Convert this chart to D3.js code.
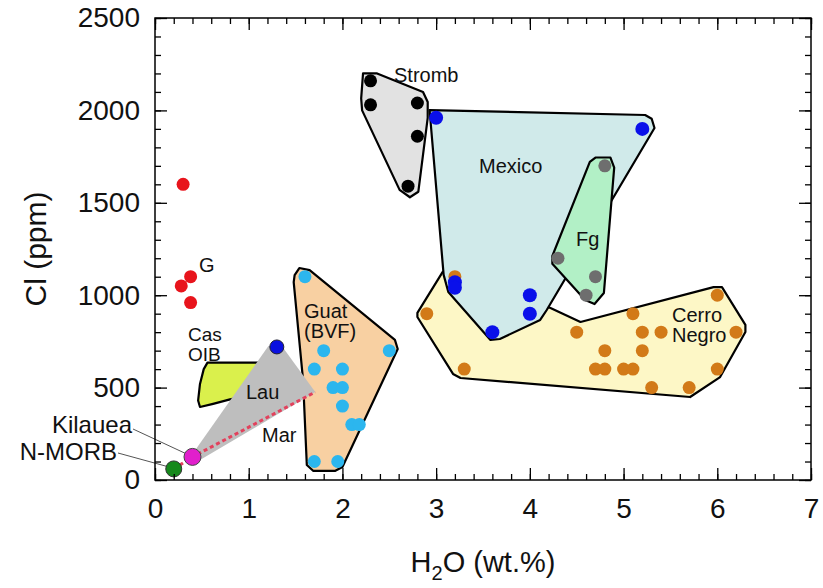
<!DOCTYPE html>
<html>
<head>
<meta charset="utf-8">
<script src="https://cdn.jsdelivr.net/npm/d3@7"></script>
<style>
  html, body { margin: 0; padding: 0; background: #fff; }
  svg { display: block; font-family: "Liberation Sans", Arial, Helvetica, sans-serif; }
</style>
</head>
<body>
<svg id="chart" width="823" height="588"></svg>
<script>
// H2O (wt.%) vs Cl (ppm) for arc and reference melt inclusion suites

const xTicks = [0, 1, 2, 3, 4, 5, 6, 7];
const yTicks = [0, 500, 1000, 1500, 2000, 2500];

// Field outlines [H2O, Cl]
const cerroHull = [[2.80,904],[3.07,1126],[4.22,931],[4.54,855],[5.96,1044],[6.05,1044],[6.30,839],[6.30,801],[6.03,557],[5.71,449],[3.26,552],[3.18,574],[2.80,882]];
const mexicoHull = [[2.93,2002],[5.23,1975],[5.30,1955],[5.33,1905],[4.18,920],[4.11,866],[3.68,763],[3.58,758],[3.13,1017],[3.08,1110]];
const fgHull = [[4.70,1745],[4.86,1745],[4.90,1690],[4.79,1012],[4.69,952],[4.59,974],[4.24,1170],[4.24,1212],[4.64,1721]];
const strombHull = [[2.22,2200],[2.37,2200],[2.86,2100],[2.91,2045],[2.91,1960],[2.81,1560],[2.72,1530],[2.61,1570],[2.21,2000],[2.20,2065]];
const guatHull = [[1.49,1109],[1.54,1147],[1.65,1136],[2.56,758],[2.59,709],[2.00,70],[1.92,49],[1.69,49],[1.62,81],[1.58,541],[1.48,1071]];
const casHull = [[0.56,635],[1.15,635],[1.15,470],[0.80,436],[0.62,412],[0.48,395],[0.46,430],[0.48,520],[0.52,600]];
const lauHull = [[0.37,119],[1.21,725],[1.33,741],[1.71,476],[0.48,108]];
const marLine = [[0.20,60],[0.40,125],[1.71,476]];

// Analyses [H2O, Cl]
const gPts = [[0.30,1600],[0.38,1100],[0.28,1050],[0.38,960]];
const strombPts = [[2.3,2160],[2.3,2030],[2.8,2040],[2.8,1860],[2.7,1590]];
const cerroPts = [[3.2,1100],[2.9,900],[3.3,600],[4.5,800],[5.1,900],[5.2,800],[5.4,800],[4.8,700],[5.2,700],
                  [4.7,600],[4.8,600],[5.0,600],[5.1,600],[5.3,500],[5.7,500],[6.0,1000],[6.2,800],[6.0,600]];
const mexicoPts = [[3.0,1960],[5.2,1900],[3.2,1070],[3.2,1040],[4.0,1000],[4.0,900],[3.6,800]];
const fgPts = [[4.8,1700],[4.3,1200],[4.7,1100],[4.6,1000]];
const guatPts = [[1.6,1100],[1.8,700],[2.5,700],[1.7,600],[2.0,600],[1.9,500],[2.0,500],[2.0,400],
                 [2.1,300],[2.18,300],[1.7,100],[1.95,100]];
const lauPts = [[1.3,720]];
const kilaueaPt = [0.40,125];
const nmorbPt = [0.20,60];

const svg = d3.select("#chart");
const x = d3.scaleLinear().domain([0, 7]).range([155, 811]);
const y = d3.scaleLinear().domain([0, 2500]).range([480, 18]);
const line = d3.line().x(d => x(d[0])).y(d => y(d[1]));
const closed = d3.line().x(d => x(d[0])).y(d => y(d[1])).curve(d3.curveLinearClosed);

function field(pts, fill, stroke) {
  svg.append("path").attr("d", closed(pts))
    .attr("fill", fill)
    .attr("stroke", stroke || "none")
    .attr("stroke-width", 2.2)
    .attr("stroke-linejoin", "round");
}
function dots(pts, fill, r, stroke) {
  svg.append("g").selectAll("circle").data(pts).join("circle")
    .attr("cx", d => x(d[0])).attr("cy", d => y(d[1]))
    .attr("r", r)
    .attr("fill", fill)
    .attr("stroke", stroke || "none")
    .attr("stroke-width", stroke ? 1 : 0);
}
// one text element per label; extra lines go in tspans
function label(lines, px, py, size, anchor, lead) {
  const t = svg.append("text").attr("x", px).attr("y", py)
    .attr("font-size", size).attr("text-anchor", anchor || "start")
    .attr("fill", "#111");
  [].concat(lines).forEach((s, i) => {
    t.append("tspan").attr("x", px).attr("dy", i ? (lead || 20) : 0).text(s);
  });
}

// fields
field(cerroHull, "#fdf7c6", "#000");
field(mexicoHull, "#d0eaea", "#000");
field(fgHull, "#b2f0c6", "#000");
field(strombHull, "#e2e2e2", "#000");
field(guatHull, "#f8d0a2", "#000");
field(casHull, "#daf04c", "#000");
field(lauHull, "#bebebe");

// Mariana trend
svg.append("path").attr("d", line(marLine))
  .attr("fill", "none").attr("stroke", "#e2415c")
  .attr("stroke-width", 3).attr("stroke-dasharray", "4,3");

// points
dots(gPts, "#e8141c", 6.5);
dots(strombPts, "#000", 6.5);
dots(cerroPts, "#d27a18", 6.5);
dots(mexicoPts, "#0a10ea", 7);
dots(fgPts, "#6e6e6e", 6.5);
dots(guatPts, "#2cb6ee", 6.5);
dots(lauPts, "#0a10e0", 7, "#223");

// leader lines
svg.append("line").attr("x1", 133).attr("y1", 429).attr("x2", x(kilaueaPt[0]) - 6).attr("y2", y(kilaueaPt[1]) - 3)
  .attr("stroke", "#555").attr("stroke-width", 1);
svg.append("line").attr("x1", 118).attr("y1", 453).attr("x2", x(nmorbPt[0]) - 5).attr("y2", y(nmorbPt[1]) - 2)
  .attr("stroke", "#555").attr("stroke-width", 1);

dots([nmorbPt], "#16891c", 8, "#333");
dots([kilaueaPt], "#e11fcc", 8.5, "#444");

// field labels
label("Stromb", 394, 82, 20);
label("Mexico", 479, 173, 20);
label("Fg", 576, 246, 20);
label(["Cerro", "Negro"], 672, 322, 20, "start", 20);
label(["Guat", "(BVF)"], 304, 318, 20, "start", 20);
label("G", 199, 272, 20);
label(["Cas", "OIB"], 188, 341, 19, "start", 20);
label("Lau", 246, 399, 20);
label("Mar", 262, 442, 20);
label("Kilauea", 132, 433, 24, "end");
label("N-MORB", 117, 460, 24, "end");

// frame
svg.append("rect").attr("x", 155).attr("y", 18).attr("width", 656).attr("height", 462)
  .attr("fill", "none").attr("stroke", "#000").attr("stroke-width", 1.5);

const xMinor = d3.range(0, 7.0001, 0.2);
const yMinor = d3.range(0, 2500.1, 100);

function tickStyle(g) {
  g.select(".domain").remove();
  g.selectAll(".tick line").attr("stroke", "#000").attr("stroke-width", 1.3);
}

// minor ticks on all four sides
svg.append("g").attr("transform", "translate(0,480)")
  .call(d3.axisBottom(x).tickValues(xMinor).tickSize(-6).tickFormat("")).call(tickStyle);
svg.append("g").attr("transform", "translate(0,18)")
  .call(d3.axisTop(x).tickValues(xMinor).tickSize(-6).tickFormat("")).call(tickStyle);
svg.append("g").attr("transform", "translate(155,0)")
  .call(d3.axisLeft(y).tickValues(yMinor).tickSize(-6).tickFormat("")).call(tickStyle);
svg.append("g").attr("transform", "translate(811,0)")
  .call(d3.axisRight(y).tickValues(yMinor).tickSize(-6).tickFormat("")).call(tickStyle);

// major ticks and labels
svg.append("g").attr("transform", "translate(0,480)")
  .call(d3.axisBottom(x).tickValues(xTicks).tickSize(-12).tickPadding(16).tickFormat(d3.format("d")))
  .call(tickStyle)
  .call(g => g.selectAll("text").attr("font-size", 28).attr("fill", "#111").attr("font-family", null).attr("dy", "0.78em"));
svg.append("g").attr("transform", "translate(0,18)")
  .call(d3.axisTop(x).tickValues(xTicks).tickSize(-12).tickFormat("")).call(tickStyle);
svg.append("g").attr("transform", "translate(155,0)")
  .call(d3.axisLeft(y).tickValues(yTicks).tickSize(-12).tickPadding(15).tickFormat(d3.format("d")))
  .call(tickStyle)
  .call(g => g.selectAll("text").attr("font-size", 28).attr("fill", "#111").attr("font-family", null));
svg.append("g").attr("transform", "translate(811,0)")
  .call(d3.axisRight(y).tickValues(yTicks).tickSize(-12).tickFormat("")).call(tickStyle);

// axis titles
const xt = svg.append("text").attr("x", 483).attr("y", 572).attr("text-anchor", "middle")
  .attr("font-size", 29).attr("fill", "#111");
xt.append("tspan").text("H");
xt.append("tspan").attr("font-size", 20).attr("dy", 8).text("2");
xt.append("tspan").attr("dy", -8).text("O (wt.%)");

svg.append("text").attr("transform", "translate(46,249) rotate(-90)")
  .attr("text-anchor", "middle").attr("font-size", 30).attr("fill", "#111").text("Cl (ppm)");
</script>
</body>
</html>
